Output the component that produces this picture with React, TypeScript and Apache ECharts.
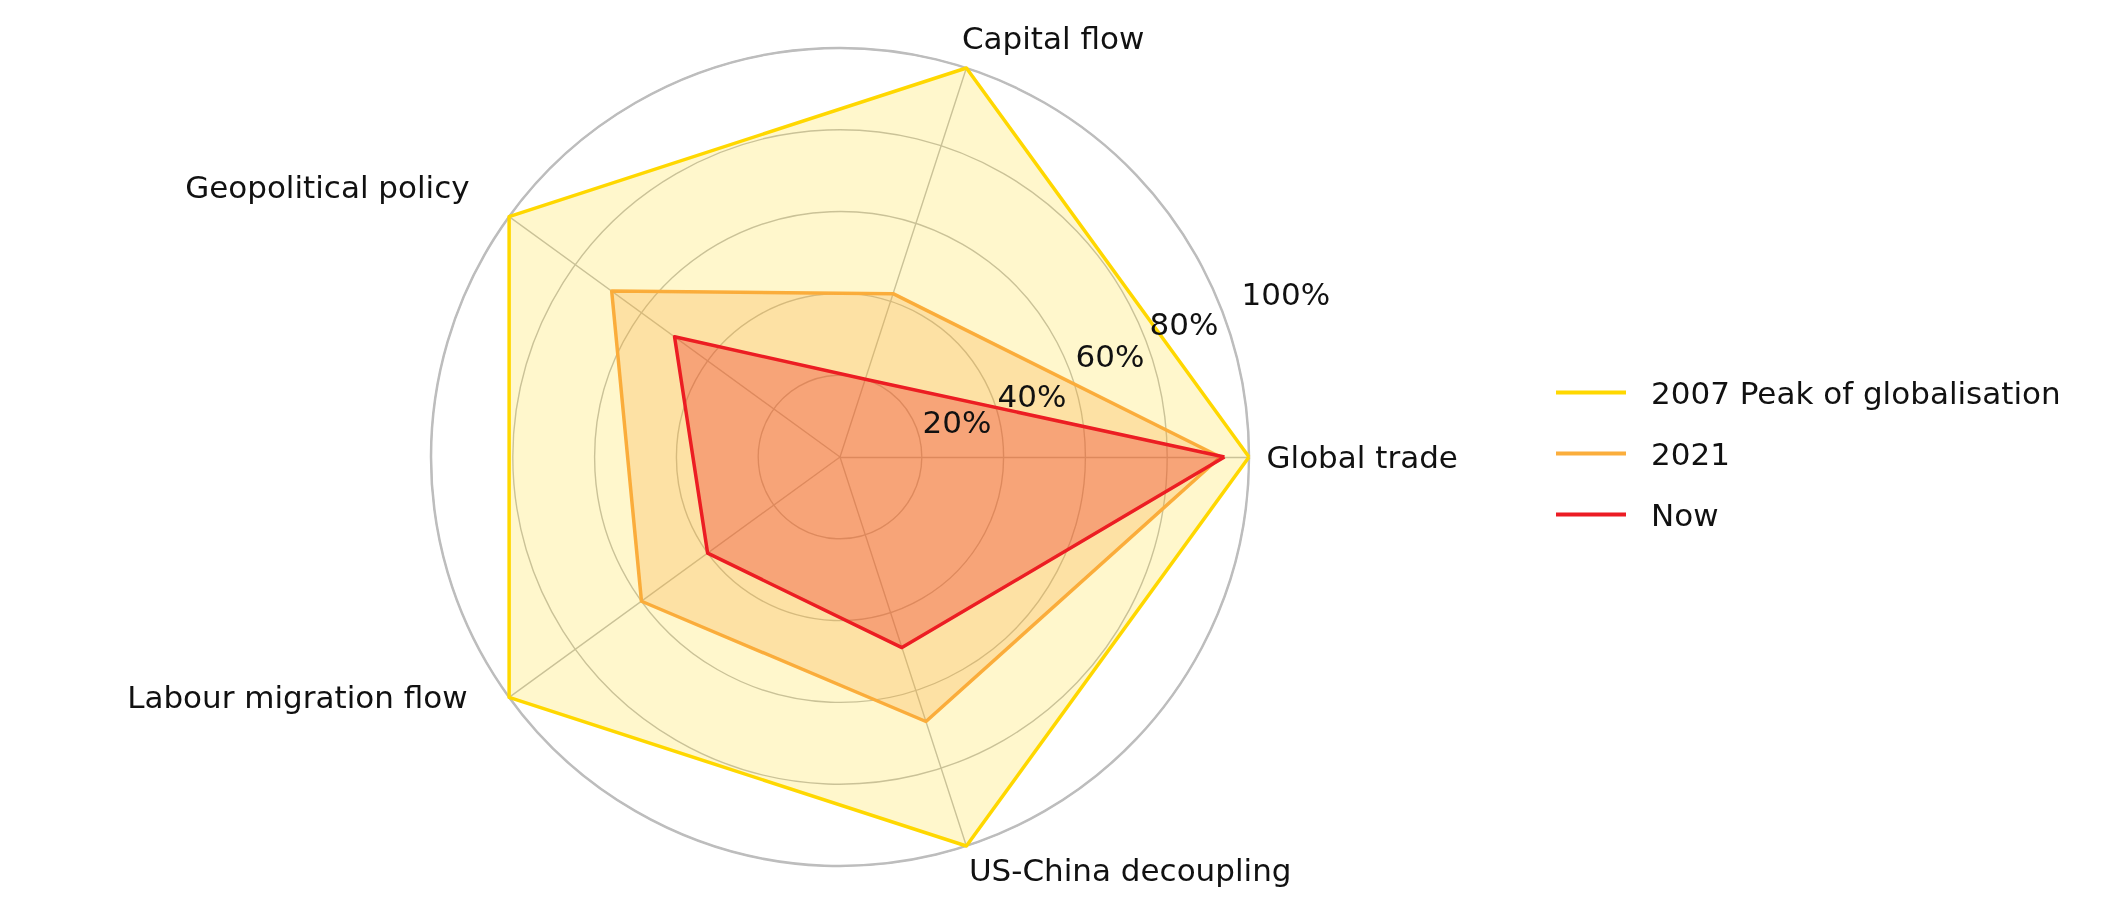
import React, { useEffect, useRef } from "react";
import * as echarts from "echarts";

const indicators = [
  "Global trade",
  "Capital flow",
  "Geopolitical policy",
  "Labour migration flow",
  "US-China decoupling",
];
const seriesNames = ["2007 Peak of globalisation", "2021", "Now"];
const peak2007 = [100, 100, 100, 100, 100];
const y2021 = [93, 42, 69, 60, 68];
const now = [94, 20, 50, 40, 49];
const ticks = [20, 40, 60, 80, 100];

const FONT = "DejaVu Sans";
const CENTER = [840, 457];
const RADIUS = 409;
const TEXT_COLOR = "#111111";

const lineColors = ["#FFD800", "#FBAE3C", "#EC1C24"];
const fillColors = [
  "rgba(255,215,0,0.2)",
  "rgba(249,168,55,0.27)",
  "rgba(238,40,30,0.33)",
];

// label placement styles for indicator names (relative to axis end)
const nameStyles = [
  { align: "left", pos: [18, 0] },
  { align: "left", pos: [-4, -30] },
  { align: "right", pos: [-39, -29] },
  { align: "right", pos: [-41, 0] },
  { align: "left", pos: [3, 25] },
];
// label offsets for tick labels (relative to tick point on the 23.5° ray)
const tickOffsets = [
  [8, -2],
  [8, 5],
  [11, -3],
  [10, -2],
  [27, 1],
];

export default function App() {
  const ref = useRef<HTMLDivElement>(null);
  useEffect(() => {
    const chart = echarts.init(ref.current!, null, { renderer: "svg" });
    const seriesData = [peak2007, y2021, now];
    const angleStep = 360 / indicators.length;
    const tickAngle = 23.5;

    const labelBase = {
      show: true,
      verticalAlign: "middle",
      fontSize: 31,
      fontFamily: FONT,
      color: TEXT_COLOR,
      opacity: 1,
      textBorderWidth: 0,
      textShadowBlur: 0,
    };

    const option: any = {
      animation: false,
      textStyle: { fontFamily: FONT, color: TEXT_COLOR },
      legend: {
        orient: "vertical",
        left: 1551,
        top: 372,
        data: seriesNames,
        icon: "rect",
        itemWidth: 70,
        itemHeight: 4,
        itemGap: 30,
        selectedMode: false,
        textStyle: {
          fontFamily: FONT,
          fontSize: 31,
          lineHeight: 31,
          color: TEXT_COLOR,
          padding: [0, 0, 0, 20],
        },
      },
      radar: {
        center: CENTER,
        radius: RADIUS,
        startAngle: 0,
        shape: "circle",
        splitNumber: 5,
        indicator: indicators.map((n) => ({ name: n, min: 0, max: 100 })),
        axisName: { show: false },
        axisLine: { lineStyle: { color: "#bdbdbd", width: 1.4 } },
        splitLine: { lineStyle: { color: "#bdbdbd", width: 1.4 } },
        splitArea: { show: false },
      },
      polar: { center: CENTER, radius: RADIUS },
      angleAxis: {
        type: "value",
        min: 0,
        max: 360,
        startAngle: 0,
        clockwise: false,
        axisLine: { show: true, lineStyle: { color: "#bdbdbd", width: 2.5 } },
        axisTick: { show: false },
        axisLabel: { show: false },
        splitLine: { show: false },
      },
      radiusAxis: {
        type: "value",
        min: 0,
        max: 100,
        axisLine: { show: false },
        axisTick: { show: false },
        axisLabel: { show: false },
        splitLine: { show: false },
      },
      series: [
        ...seriesNames.map((name, i) => ({
          type: "radar",
          name,
          symbol: "none",
          z: 2,
          itemStyle: { color: lineColors[i] },
          lineStyle: { color: lineColors[i], width: 3.5 },
          areaStyle: { color: fillColors[i], opacity: 1 },
          data: [{ name, value: seriesData[i] }],
        })),
        {
          type: "scatter",
          coordinateSystem: "polar",
          name: "axis-names",
          symbolSize: 1,
          z: 10,
          silent: true,
          itemStyle: { color: "rgba(0,0,0,0)" },
          data: indicators.map((n, i) => ({
            name: n,
            value: [100, i * angleStep],
            label: {
              ...labelBase,
              formatter: n,
              position: nameStyles[i].pos,
              align: nameStyles[i].align,
            },
          })),
        },
        {
          type: "scatter",
          coordinateSystem: "polar",
          name: "tick-labels",
          symbolSize: 1,
          z: 10,
          silent: true,
          itemStyle: { color: "rgba(0,0,0,0)" },
          data: ticks.map((t, i) => ({
            value: [t, tickAngle],
            label: {
              ...labelBase,
              formatter: t + "%",
              position: tickOffsets[i],
              align: "left",
            },
          })),
        },
      ],
    };
    chart.setOption(option);
    return () => chart.dispose();
  }, []);
  return (
    <div
      ref={ref}
      style={{ position: "fixed", left: 0, top: 0, width: 2114, height: 905 }}
    />
  );
}
